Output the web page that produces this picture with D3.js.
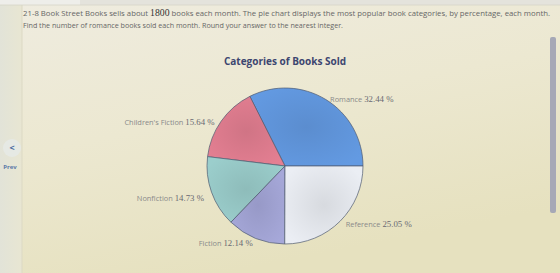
<!DOCTYPE html>
<html><head><meta charset="utf-8">
<script src="https://cdn.jsdelivr.net/npm/d3@7"></script>
<style>
html,body{margin:0;padding:0;background:#ebe7d2;}
svg{display:block;}
</style></head>
<body>
<svg id="c" width="560" height="273"></svg>
<script>
const categories = ["Romance", "Children's Fiction", "Nonfiction", "Fiction", "Reference"];
const percents = [32.44, 15.64, 14.73, 12.14, 25.05];
const colors = ["#5e92d6", "#d8788a", "#93c3c1", "#9d9fce", "#dfe2e7"];
const titleText = "Categories of Books Sold";
const questionLines = [
  ["21-8 Book Street Books sells about ", "1800", " books each month. The pie chart displays the most popular book categories, by percentage, each month."],
  ["Find the number of romance books sold each month. Round your answer to the nearest integer."]
];

const svg = d3.select("#c");
const W = 560, H = 273;

const defs = svg.append("defs");
const bg = defs.append("linearGradient").attr("id","bg").attr("x1","0").attr("y1","0").attr("x2","0.4").attr("y2","1");
bg.append("stop").attr("offset","0").attr("stop-color","#efece0");
bg.append("stop").attr("offset","0.5").attr("stop-color","#ece8d1");
bg.append("stop").attr("offset","1").attr("stop-color","#e6e1bf");
svg.append("rect").attr("width",W).attr("height",H).attr("fill","url(#bg)");

// left sidebar
const side = defs.append("linearGradient").attr("id","side").attr("x1","0").attr("y1","0").attr("x2","1").attr("y2","0");
side.append("stop").attr("offset","0").attr("stop-color","#e2e3d8");
side.append("stop").attr("offset","1").attr("stop-color","#e8e6d2");
svg.append("rect").attr("x",0).attr("y",0).attr("width",22).attr("height",H).attr("fill","url(#side)");
svg.append("line").attr("x1",22).attr("x2",22).attr("y1",0).attr("y2",H).attr("stroke","#dcd9c4").attr("stroke-width",1);
// top strip
svg.append("rect").attr("x",0).attr("y",0).attr("width",W).attr("height",5).attr("fill","#e4e3dc");
svg.append("rect").attr("x",0).attr("y",0).attr("width",80).attr("height",5).attr("fill","#eeeeea");
svg.append("line").attr("x1",0).attr("x2",W).attr("y1",5).attr("y2",5).attr("stroke","#d6d4c8").attr("stroke-width",0.8);

// prev button
svg.append("circle").attr("cx",12).attr("cy",148).attr("r",9).attr("fill","#e6e9e4");
svg.append("text").attr("x",12).attr("y",151).attr("text-anchor","middle")
  .attr("font-family","Open Sans, sans-serif").attr("font-size",9).attr("font-weight",700).attr("fill","#4a6aa0").text("<");
svg.append("text").attr("x",10).attr("y",169).attr("text-anchor","middle")
  .attr("font-family","Open Sans, sans-serif").attr("font-size",6).attr("font-weight",700).attr("fill","#5a78a8").text("Prev");

// scrollbar
svg.append("rect").attr("x",550).attr("y",37).attr("width",6).attr("height",176).attr("rx",2).attr("fill","#a6a8b6");

// question text
const qy = [16, 28];
const qLens = [527, 320];
questionLines.forEach((parts, i) => {
  const t = svg.append("text").attr("x",23).attr("y",qy[i])
    .attr("font-family","Open Sans, sans-serif").attr("font-size",7.6).attr("fill","#666")
    .attr("textLength", qLens[i]).attr("lengthAdjust","spacingAndGlyphs");
  parts.forEach((p, j) => {
    const ts = t.append("tspan").text(p);
    if (p === "1800") ts.attr("font-family","Liberation Serif, serif").attr("font-size",9.5).attr("fill","#333");
  });
});

// title
svg.append("text").attr("x",285).attr("y",65).attr("text-anchor","middle")
  .attr("font-family","Open Sans, sans-serif").attr("font-weight",700).attr("font-size",10)
  .attr("fill","#3d4670").text(titleText);

// pie
const cx = 285, cy = 166, r = 78;
const data = categories.map((c, i) => ({cat: c, value: percents[i], color: colors[i]}));
const pie = d3.pie().value(d => d.value).sort(null)
  .startAngle(Math.PI/2).endAngle(Math.PI/2 - 2*Math.PI);
const arcs = pie(data);
const arc = d3.arc().innerRadius(0).outerRadius(r);
const g = svg.append("g").attr("transform",`translate(${cx},${cy})`);

arcs.forEach((a, i) => {
  const gr = defs.append("radialGradient").attr("id","pg"+i).attr("cx","0.5").attr("cy","0.5").attr("r","0.6");
  const base = d3.color(a.data.color);
  gr.append("stop").attr("offset","0").attr("stop-color", base.darker(0.1).formatHex());
  gr.append("stop").attr("offset","1").attr("stop-color", base.brighter(0.15).formatHex());
});

g.selectAll("path.slice").data(arcs).enter().append("path").attr("class","slice")
  .attr("d", arc)
  .attr("fill", (d,i) => `url(#pg${i})`)
  .attr("stroke","#4f5a70").attr("stroke-width",0.7).attr("stroke-linejoin","round");

// labels
const labelArc = d3.arc().innerRadius(86).outerRadius(86);
const lab = g.selectAll("text.lab").data(arcs).enter().append("text").attr("class","lab")
  .attr("transform", d => `translate(${labelArc.centroid(d)})`)
  .attr("dy", d => {
    const y = labelArc.centroid(d)[1];
    return y < 0 ? "0.55em" : (y < 40 ? "0.4em" : "0em");
  })
  .attr("text-anchor", d => labelArc.centroid(d)[0] >= 0 ? "start" : "end");
lab.append("tspan").attr("font-family","Open Sans, sans-serif").attr("font-size",7.4).attr("fill","#8a8a8a")
  .text(d => d.data.cat + " ");
lab.append("tspan").attr("font-family","Liberation Serif, serif").attr("font-size",8.8).attr("fill","#6a6a72")
  .text(d => d.data.value.toFixed(2) + " %");
</script>
</body></html>
